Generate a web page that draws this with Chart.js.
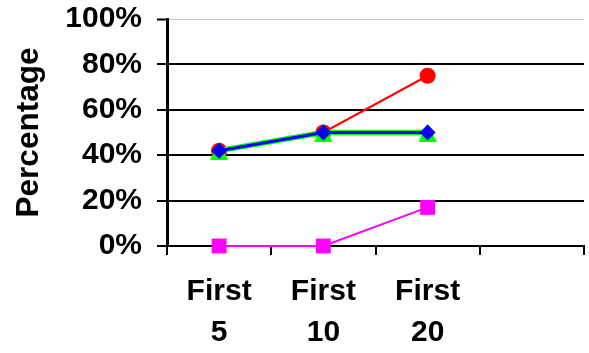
<!DOCTYPE html>
<html>
<head>
<meta charset="utf-8">
<script src="https://cdn.jsdelivr.net/npm/chart.js@4/dist/chart.umd.min.js"></script>
<style>
  html, body { margin: 0; padding: 0; background: #fff; }
  #wrap { width: 589px; height: 353px; position: relative; }
</style>
</head>
<body>
<div id="wrap"><canvas id="c" width="589" height="353"></canvas></div>
<script>
// Category labels (two lines each); the fourth slot is left empty
const categories = [['First', '5'], ['First', '10'], ['First', '20'], ''];

// Series values, in percent
const seriesRed = [42, 50, 75];
const seriesGreen = [42, 50, 50];
const seriesBlue = [42, 50, 50];
const seriesMagenta = [0, 0, 17];

// Y axis ticks
const yTicks = [0, 20, 40, 60, 80, 100];

// Green triangle marker spanning its full box
function triangleMarker(size, color) {
  const cv = document.createElement('canvas');
  cv.width = size; cv.height = size;
  const g = cv.getContext('2d');
  g.fillStyle = color;
  g.beginPath();
  g.moveTo(size / 2, 0);
  g.lineTo(size, size);
  g.lineTo(0, size);
  g.closePath();
  g.fill();
  return cv;
}

// Let the layout padding alone decide where the plot area sits
function clearScalePadding(s) {
  s.paddingTop = 0; s.paddingBottom = 0; s.paddingLeft = 0; s.paddingRight = 0;
}

const font = { family: '"Liberation Sans", Arial, sans-serif', weight: 'bold', size: 30 };

new Chart(document.getElementById('c'), {
  type: 'line',
  data: {
    labels: categories,
    datasets: [
      {
        data: seriesBlue, borderColor: '#0000ff', backgroundColor: '#0000ff',
        borderWidth: 3, pointStyle: 'rectRot', pointRadius: 8, pointBorderWidth: 0,
        clip: false
      },
      {
        data: seriesGreen, borderColor: '#00ff00', backgroundColor: '#00ff00',
        borderWidth: 5.5, pointStyle: triangleMarker(18, '#00ff00'), pointRadius: 9,
        pointBorderWidth: 0, clip: false
      },
      {
        data: seriesRed, borderColor: '#ff0000', backgroundColor: '#ff0000',
        borderWidth: 2, pointStyle: 'circle', pointRadius: 8, pointBorderWidth: 0,
        clip: false
      },
      {
        data: seriesMagenta, borderColor: '#ff00ff', backgroundColor: '#ff00ff',
        borderWidth: 2, pointStyle: 'rect', pointRadius: 10.5, pointBorderWidth: 0,
        clip: false
      }
    ]
  },
  options: {
    responsive: false,
    animation: false,
    events: [],
    layout: { autoPadding: false, padding: { left: 0, right: 5, top: 19, bottom: 0 } },
    plugins: { legend: { display: false }, tooltip: { enabled: false } },
    elements: { line: { tension: 0 } },
    scales: {
      x: {
        type: 'category',
        offset: true,
        afterFit: s => { s.height = 107; clearScalePadding(s); },
        grid: {
          offset: true, drawOnChartArea: false, drawTicks: true,
          tickLength: 9, color: '#000', lineWidth: 2
        },
        border: { display: true, color: '#000', width: 2 },
        ticks: {
          color: '#000', font: Object.assign({}, font, { lineHeight: 1.34 }),
          padding: 17, maxRotation: 0, autoSkip: false
        }
      },
      y: {
        min: 0, max: 100,
        afterFit: s => { s.width = 167; clearScalePadding(s); },
        afterBuildTicks: s => { s.ticks = yTicks.map(v => ({ value: v })); },
        grid: {
          color: c => (c.tick && c.tick.value === 100 ? '#c8c8c8' : '#000'),
          lineWidth: c => (c.tick && c.tick.value === 100 ? 1 : 2),
          tickColor: '#000', tickWidth: 2, tickLength: 10
        },
        border: { display: true, color: '#000', width: 3 },
        ticks: {
          color: '#000', font: font, padding: 15,
          callback: v => v + '%'
        },
        title: {
          display: true, text: 'Percentage', color: '#000',
          font: Object.assign({}, font, { size: 31.5 }),
          padding: { top: 10, bottom: 0 }
        }
      }
    }
  }
});
</script>
</body>
</html>
